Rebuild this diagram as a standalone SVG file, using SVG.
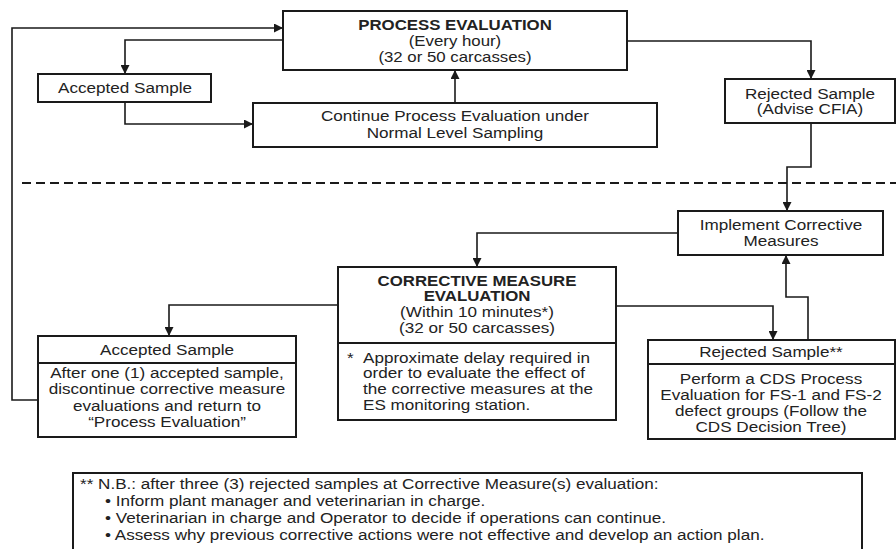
<svg xmlns="http://www.w3.org/2000/svg" width="896" height="549" viewBox="0 0 896 549">
<defs>
<marker id="ah" viewBox="0 0 10 10" refX="10" refY="5" markerWidth="9" markerHeight="9" markerUnits="userSpaceOnUse" orient="auto">
<path d="M0,0 L10,5 L0,10 z" fill="#1a1a1a"/>
</marker>
</defs>
<style>
.box{fill:#fff;stroke:#1a1a1a;stroke-width:2}
.div{stroke:#1a1a1a;stroke-width:2}
.t{font-family:"Liberation Sans",Arial,sans-serif;font-size:14.5px;fill:#222;text-anchor:middle}
.b{font-weight:bold}
.l{text-anchor:start}
.c{fill:none;stroke:#1a1a1a;stroke-width:1.6}
.dash{stroke:#1a1a1a;stroke-width:2;stroke-dasharray:9 5}
</style>
<rect width="896" height="549" fill="#fff"/>
<line class="dash" x1="22" y1="183" x2="896" y2="183"/>
<g id="connectors">
<path class="c" d="M38,400 H12 V28 H283" marker-end="url(#ah)"/>
<path class="c" d="M283,40 H125 V74" marker-end="url(#ah)"/>
<path class="c" d="M125,102 V124 H253" marker-end="url(#ah)"/>
<path class="c" d="M455,103 V70" marker-end="url(#ah)"/>
<path class="c" d="M627,41 H811 V79" marker-end="url(#ah)"/>
<path class="c" d="M811,123 V167 H787 V211" marker-end="url(#ah)"/>
<path class="c" d="M678,233 H477 V267" marker-end="url(#ah)"/>
<path class="c" d="M338,305 H169 V336" marker-end="url(#ah)"/>
<path class="c" d="M616,306 H773 V340" marker-end="url(#ah)"/>
<path class="c" d="M808,340 V297 H786 V255" marker-end="url(#ah)"/>
</g>
<g id="process-evaluation">
<rect class="box" x="283" y="11" width="344" height="59"/>
<text class="t b" transform="translate(455,30) scale(1.16,1)">PROCESS EVALUATION</text>
<text class="t" transform="translate(455,46) scale(1.16,1)">(Every hour)</text>
<text class="t" transform="translate(455,62) scale(1.16,1)">(32 or 50 carcasses)</text>
</g>
<g id="accepted-sample-top">
<rect class="box" x="38" y="74" width="173" height="28"/>
<text class="t" transform="translate(125,93) scale(1.18,1)">Accepted Sample</text>
</g>
<g id="continue-process">
<rect class="box" x="253" y="103" width="404" height="44"/>
<text class="t" transform="translate(455,121) scale(1.18,1)">Continue Process Evaluation under</text>
<text class="t" transform="translate(455,138) scale(1.18,1)">Normal Level Sampling</text>
</g>
<g id="rejected-sample-top">
<rect class="box" x="725" y="79" width="170" height="44"/>
<text class="t" transform="translate(810,99) scale(1.18,1)">Rejected Sample</text>
<text class="t" transform="translate(810,114) scale(1.18,1)">(Advise CFIA)</text>
</g>
<g id="implement-corrective">
<rect class="box" x="678" y="211" width="205" height="44"/>
<text class="t" transform="translate(781,230) scale(1.18,1)">Implement Corrective</text>
<text class="t" transform="translate(781,246) scale(1.18,1)">Measures</text>
</g>
<g id="corrective-measure-evaluation">
<rect class="box" x="338" y="267" width="278" height="153"/>
<line class="div" x1="338" y1="343" x2="616" y2="343"/>
<text class="t b" transform="translate(477,286) scale(1.16,1)">CORRECTIVE MEASURE</text>
<text class="t b" transform="translate(477,301) scale(1.16,1)">EVALUATION</text>
<text class="t" transform="translate(477,317) scale(1.18,1)">(Within 10 minutes*)</text>
<text class="t" transform="translate(477,333) scale(1.18,1)">(32 or 50 carcasses)</text>
<text class="t l" transform="translate(347,363) scale(1.18,1)">*</text>
<text class="t l" transform="translate(363,363) scale(1.18,1)">Approximate delay required in</text>
<text class="t l" transform="translate(363,378) scale(1.18,1)">order to evaluate the effect of</text>
<text class="t l" transform="translate(363,394) scale(1.18,1)">the corrective measures at the</text>
<text class="t l" transform="translate(363,410) scale(1.18,1)">ES monitoring station.</text>
</g>
<g id="accepted-sample-bottom">
<rect class="box" x="38" y="336" width="258" height="101"/>
<line class="div" x1="38" y1="363" x2="296" y2="363"/>
<text class="t" transform="translate(167,355) scale(1.18,1)">Accepted Sample</text>
<text class="t" transform="translate(167,378) scale(1.18,1)">After one (1) accepted sample,</text>
<text class="t" transform="translate(167,394) scale(1.18,1)">discontinue corrective measure</text>
<text class="t" transform="translate(167,411) scale(1.18,1)">evaluations and return to</text>
<text class="t" transform="translate(167,427) scale(1.18,1)">“Process Evaluation”</text>
</g>
<g id="rejected-sample-bottom">
<rect class="box" x="648" y="340" width="247" height="99"/>
<line class="div" x1="648" y1="364" x2="895" y2="364"/>
<text class="t" transform="translate(771,357) scale(1.18,1)">Rejected Sample**</text>
<text class="t" transform="translate(771,384) scale(1.18,1)">Perform a CDS Process</text>
<text class="t" transform="translate(771,400) scale(1.18,1)">Evaluation for FS-1 and FS-2</text>
<text class="t" transform="translate(771,416) scale(1.18,1)">defect groups (Follow the</text>
<text class="t" transform="translate(771,432) scale(1.18,1)">CDS Decision Tree)</text>
</g>
<g id="nb-note">
<rect class="box" x="73" y="473" width="789" height="82"/>
<text class="t l" transform="translate(80,489) scale(1.18,1)">** N.B.: after three (3) rejected samples at Corrective Measure(s) evaluation:</text>
<text class="t l" transform="translate(105,506) scale(1.18,1)">• Inform plant manager and veterinarian in charge.</text>
<text class="t l" transform="translate(105,523) scale(1.18,1)">• Veterinarian in charge and Operator to decide if operations can continue.</text>
<text class="t l" transform="translate(105,540) scale(1.18,1)">• Assess why previous corrective actions were not effective and develop an action plan.</text>
</g>
</svg>
